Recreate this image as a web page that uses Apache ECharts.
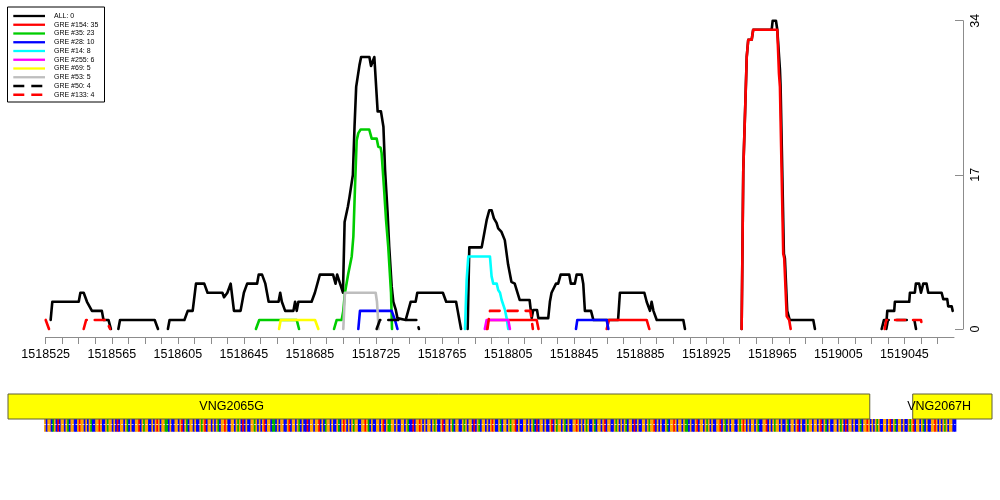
<!DOCTYPE html>
<html><head><meta charset="utf-8">
<script src="https://cdn.jsdelivr.net/npm/echarts@6/dist/echarts.min.js"></script>
<style>html,body{margin:0;padding:0;background:#fff}#c{width:1000px;height:500px}</style>
</head><body><div id="c"></div>
<script>
// ---- axis ----
const BASE = 1518525;      // first x tick
const AXIS_END = 1519075;  // end of x axis
const X_LABEL_STEP = 40;
const X_TICK_STEP = 10;
const Y_MAX = 34;
const Y_STEP = 17;

// ---- series (segments of [position, value]) ----
const legendNames = ['ALL: 0','GRE #154: 35','GRE #35: 23','GRE #28: 10','GRE #14: 8','GRE #255: 6','GRE #69: 5','GRE #53: 5','GRE #50: 4','GRE #133: 4'];

const ALL = [
 [[1518528,1],[1518529,3],[1518545,3],[1518546,4],[1518548,4],[1518550,3],[1518553,2],[1518559,2],[1518560,1],[1518563,1],[1518564.5,0]],
 [[1518569,0],[1518570,1],[1518591,1],[1518593,0]],
 [[1518599,0],[1518600,1],[1518609,1],[1518611,2],[1518614,2],[1518616,5],[1518621,5],[1518623,4],[1518632,4],[1518633,3.5],[1518635,4],[1518637,5],[1518638,5],[1518639,2],[1518643,2],[1518645,4],[1518647,5],[1518653,5],[1518654,6],[1518656,6],[1518658,5],[1518659,4],[1518660,3],[1518666,3],[1518667,4],[1518668,3],[1518670,2],[1518675,2],[1518676,3],[1518677,2],[1518678,3],[1518686,3],[1518688,4],[1518691,6],[1518699,6],[1518700.5,5],[1518701.5,6],[1518705,4],[1518706,11.8],[1518707,12],[1518708,13.5],[1518709,14.6],[1518711,17],[1518712,22.3],[1518713,26.7],[1518715,29.1],[1518716,30],[1518721,30],[1518722,29],[1518723,29],[1518724,30],[1518725,30],[1518726,24],[1518728,24],[1518729.5,22.3],[1518730.5,17.5],[1518732,12.9],[1518733,9.1],[1518734.5,4.7],[1518735.5,3],[1518737,2.1],[1518738,1.2],[1518743,1],[1518744.5,2],[1518746,3],[1518749,3],[1518750,4],[1518765.5,4],[1518767.5,3],[1518773.5,3],[1518774.5,2],[1518775.5,1],[1518776.5,0]],
 [[1518780.5,0],[1518781.5,9],[1518789,9],[1518792,12],[1518793.6,13.1],[1518795,13.1],[1518796.4,12.2],[1518798,11.7],[1518799,11.1],[1518801,10.7],[1518802,10.8],[1518803,9.8],[1518805,7.1],[1518806,6.9],[1518807,5.2],[1518809,5],[1518812,3.2],[1518818,3.2],[1518819.3,1.2],[1518820.2,2.1],[1518822.5,2.1],[1518823.3,1.2],[1518829.3,1.2],[1518830.3,3],[1518831.3,4],[1518832.5,4],[1518834,5],[1518835.3,5],[1518836.8,6],[1518842,6],[1518843,5],[1518845.4,5],[1518846.5,6],[1518849.5,6],[1518850.5,5],[1518851.5,2],[1518855.2,2],[1518856.6,1],[1518871.6,1],[1518872.7,4],[1518887.5,4],[1518888.9,3],[1518890.9,2],[1518891.9,3],[1518893,2],[1518895,1],[1518911.1,1],[1518912.1,0]],
 [[1518946.4,0],[1518947.4,17.5],[1518948.5,24],[1518949.5,30],[1518950.4,31.9],[1518952.5,31.9],[1518953.4,33],[1518964.6,33],[1518965.2,34],[1518967.2,34],[1518968,33],[1518969.6,28.6],[1518970,26.7],[1518972,8.3],[1518972.6,7.8],[1518974,2],[1518975.5,1],[1518989.8,1],[1518990.8,0]],
 [[1519031.2,0],[1519032.6,1],[1519034.2,1],[1519034.6,2],[1519038.8,2],[1519039.2,3],[1519047.9,3],[1519048.3,4],[1519051.3,4],[1519051.9,5],[1519053.9,5],[1519055,4],[1519056.4,5],[1519058.4,5],[1519059.4,4],[1519067.5,4],[1519068.5,3.3],[1519070.9,3.3],[1519071.5,2.5],[1519073.6,2.5],[1519074.2,2]]
];
const GRE154 = [
 [[1518791.9,0],[1518793,1],[1518822.3,1],[1518823.4,0]],
 [[1518864.7,0],[1518866.1,1],[1518888.9,1],[1518890.5,0]],
 [[1518946.4,0],[1518947.4,17.5],[1518948.5,24],[1518949.5,30],[1518950.4,31.9],[1518952.5,31.9],[1518953.4,33],[1518968,33],[1518969,28.2],[1518969.6,26.7],[1518971.6,8.3],[1518972.2,7.8],[1518973.7,1.4],[1518975.2,1],[1518976.1,0]]
];
const GRE35 = [
 [[1518652.3,0],[1518654.3,1],[1518677,1],[1518678.4,0]],
 [[1518699.6,0],[1518701.2,1],[1518704.2,1],[1518705.2,2],[1518706.2,4],[1518708.2,6.1],[1518710.3,8],[1518711.3,10.2],[1518712.3,15.7],[1518713.3,20.8],[1518714.3,21.6],[1518715.7,22],[1518720.9,22],[1518722.4,21],[1518725.4,21],[1518726.4,20.1],[1518727.8,20],[1518728.4,19.4],[1518729.8,15.7],[1518731.1,12],[1518732.4,9.1],[1518733.5,9],[1518734.1,4],[1518734.7,0]]
];
const GRE28 = [
 [[1518714.3,0],[1518715.3,2],[1518734.5,2],[1518736.5,1],[1518738,0]],
 [[1518846.1,0],[1518846.9,1],[1518864.7,1],[1518865.7,0]]
];
const GRE14 = [
 [[1518778.9,0],[1518779.9,5.4],[1518780.9,8],[1518794,8],[1518795,5.8],[1518796,5],[1518798.1,5],[1518799,4.3],[1518800.1,4],[1518801.1,3.2],[1518802.1,3],[1518803.1,2.1],[1518804.1,1.2],[1518805.1,0]]
];
const GRE255 = [
 [[1518790.9,0],[1518792,1],[1518805.1,1],[1518806.1,0]]
];
const GRE69 = [
 [[1518666.3,0],[1518667.3,1],[1518688.1,1],[1518690.1,0]]
];
const GRE53 = [
 [[1518705.2,0],[1518706.2,4],[1518724.8,4],[1518725.6,3],[1518726.6,0]]
];
const GRE50 = [
 [[1518725.4,0],[1518727.4,1],[1518749.6,1],[1518751,0]],
 [[1519034,0],[1519035,1],[1519051,1],[1519052,0]]
];
const GRE133 = [
 [[1518525,1],[1518527,0]],
 [[1518548,0],[1518549.5,1],[1518561.5,1],[1518564,0]],
 [[1518792.5,0],[1518794,2],[1518818.5,2],[1518820,0]],
 [[1519033,0],[1519034,1],[1519055,1],[1519056,0]]
];

// ---- genes ----
const geneNames = ['VNG2065G','VNG2067H'];
const geneStart = [1518251, 1519050];
const geneEnd = [1519024, 1519200];
const geneLabelPos = [1518637.6, 1519066];

// ---- sequence strip ----
const SEQ_START = 1518524;
const sequence = [
 'GCGGCAGCTCGGCGACGGCCGTGGCGCGACCGGTGCCGAGGCGCTCGGCG',
 'ACGCCGGTCGAGGCCGCGTGCGGAACGCCGGCGTCGACGGCGCCGAGTCG',
 'GCGCGACGGTGCCGGCGAGCTCGCCGGAGCGCGTCGGCAACGCGGCCGTC',
 'GGCGACGCCTCGGCGGTCGCAGGCGCCGACGTGCGCGAGGCCGGTGACGC',
 'CGGCGTCGAAGGCGCCGGCGACCTCGGTGCGCGGCGAGCCGTCGGCGACG',
 'GCCGAGCGGCTCGACGGCGCGTGCCGACGGCGAGGTCGCCGGCGCGACTC',
 'GGCGCCGTCGAGGCGACGCCGGTGCGCGAGCCGACGGCGTCGGCCGAGCG',
 'CGACGGCTCGCCGGCGAGGTCGCGCCGACGGTGCGGCGAACGCCGTCGGC',
 'GAGCGCCGGTCGACGCGGCCGAGTGCGCGGCGACCGGTCGCGAGGCGCCG',
 'ACGGCGTCGCCGAGGCGGCGTCGACGCCGGCGAGCTCGGCGCCGACGGTG',
 'CGCGAGCCGGCGTCGACGGCGCCGAGTCGGCGACGCCGGTGCGCGAGCGG',
 'CC'
].join('');
const baseColors = {A: '#00b000', C: '#0000ff', G: '#ffa500', T: '#ff0000'};

// ---- styles ----
const allSeriesData = [ALL, GRE154, GRE35, GRE28, GRE14, GRE255, GRE69, GRE53, GRE50, GRE133];
const colors = ['#000000','#ff0000','#00cd00','#0000ff','#00ffff','#ff00ff','#ffff00','#bebebe','#000000','#ff0000'];
const dashed = [false,false,false,false,false,false,false,false,true,true];

function toData(segs){
  const out = [];
  segs.forEach((s, i) => {
    if (i) out.push([s[0][0] - BASE, null]);
    s.forEach(p => out.push([p[0] - BASE, p[1]]));
  });
  return out;
}

const FONT = 'Liberation Sans, Arial, Helvetica, sans-serif';
const GL = 45.7, GR = 46;
const PANEL_L = 8, PANEL_R = 992;
const scale = (1000 - GL - GR) / (AXIS_END - BASE);
const LW = 2.6;
const DASH = [10, 8];

const lineSeries = allSeriesData.map((segs, i) => ({
  name: legendNames[i], type: 'line', data: toData(segs),
  xAxisIndex: 0, yAxisIndex: 0,
  showSymbol: false, symbol: 'none', connectNulls: false, clip: false,
  lineStyle: { color: colors[i], width: LW, type: dashed[i] ? DASH : 'solid', cap: 'round', join: 'round' },
  itemStyle: { color: colors[i] },
  silent: true
}));

const geneSeries = {
  type: 'custom', xAxisIndex: 1, yAxisIndex: 1, silent: true, z: 3,
  renderItem(params, api){
    const i = params.dataIndex;
    const s = api.coord([api.value(0), 0]);
    const e = api.coord([api.value(1), 0]);
    const cs = params.coordSys;
    const r = echarts.graphic.clipRectByRect(
      {x: s[0], y: cs.y, width: e[0] - s[0], height: 25},
      {x: cs.x, y: cs.y, width: cs.width, height: cs.height});
    const lx = api.coord([api.value(2), 0])[0];
    return {type: 'group', children: [
      {type: 'rect', shape: r, style: {fill: '#ffff00', stroke: '#5f5f3a', lineWidth: 1}},
      {type: 'text', x: lx, y: cs.y + 13, style: {text: geneNames[i], fill: '#000', font: '12.5px ' + FONT, align: 'center', verticalAlign: 'middle'}}
    ]};
  },
  data: geneStart.map((s, i) => [s - BASE, geneEnd[i] - BASE, geneLabelPos[i] - BASE])
};

const seqSeries = {
  type: 'custom', xAxisIndex: 1, yAxisIndex: 1, silent: true, z: 2,
  renderItem(params, api){
    const p = api.value(0);
    const a = api.coord([p, 0]);
    const b = api.coord([p + 1, 0]);
    const cs = params.coordSys;
    return {type: 'rect', shape: {x: a[0], y: cs.y + 25, width: b[0] - a[0] + 0.7, height: 12.7},
            style: {fill: baseColors[sequence[params.dataIndex]]}};
  },
  data: sequence.split('').map((c, i) => [SEQ_START + i - BASE])
};

const seqDots = {
  type: 'custom', xAxisIndex: 1, yAxisIndex: 1, silent: true, z: 4,
  renderItem(params, api){
    const a = api.coord([api.value(0), 0]);
    const b = api.coord([api.value(1), 0]);
    const cs = params.coordSys;
    return {type: 'line', shape: {x1: a[0], y1: cs.y + 30.5, x2: b[0], y2: cs.y + 30.5},
            style: {stroke: '#ffffff', lineWidth: 1, lineDash: [2, 1.5], opacity: 0.7}};
  },
  data: [[SEQ_START - BASE, SEQ_START + sequence.length - BASE]]
};

// legend drawn as graphic (line samples + labels)
const legendGraphic = [{type: 'rect', shape: {x: 7.5, y: 7, width: 97, height: 95}, style: {fill: '#fff', stroke: '#000', lineWidth: 1}, z: 100}];
legendNames.forEach((n, i) => {
  const y = 16 + i * 8.75;
  legendGraphic.push({type: 'line', shape: {x1: 13.3, y1: y, x2: 45, y2: y}, z: 101,
    style: {stroke: colors[i], lineWidth: 2.3, lineDash: dashed[i] ? [11, 7] : null}});
  legendGraphic.push({type: 'text', x: 54, y: y, z: 101,
    style: {text: n, fill: '#000', font: '7px ' + FONT, verticalAlign: 'middle', align: 'left'}});
});

const chart = echarts.init(document.getElementById('c'), null, {renderer: 'canvas'});
chart.setOption({
  animation: false,
  backgroundColor: '#fff',
  graphic: legendGraphic,
  grid: [
    {left: GL, right: GR, top: 20.7, bottom: 171},
    {left: PANEL_L, right: 1000 - PANEL_R, top: 394, height: 38}
  ],
  xAxis: [
    {type: 'value', gridIndex: 0, min: 0, max: AXIS_END - BASE, interval: X_TICK_STEP, offset: 8,
     axisLine: {show: true, onZero: false, lineStyle: {color: '#8c8c8c', width: 1}},
     axisTick: {show: true, length: 7, lineStyle: {color: '#8c8c8c'}},
     splitLine: {show: false},
     axisLabel: {margin: 11, fontSize: 12.5, fontFamily: FONT, color: '#000',
       showMaxLabel: false,
       formatter: v => (Math.round(v) % X_LABEL_STEP === 0 ? String(BASE + Math.round(v)) : '')}},
    {type: 'value', gridIndex: 1, show: false,
     min: -(GL - PANEL_L) / scale, max: (AXIS_END - BASE) + (PANEL_R - (1000 - GR)) / scale}
  ],
  yAxis: [
    {type: 'value', gridIndex: 0, position: 'right', offset: 9, min: 0, max: Y_MAX, interval: Y_STEP,
     axisLine: {show: true, onZero: false, lineStyle: {color: '#8c8c8c', width: 1}},
     axisTick: {show: true, inside: true, length: 8, lineStyle: {color: '#8c8c8c'}},
     splitLine: {show: false},
     axisLabel: {rotate: 90, margin: 6, fontSize: 12.5, fontFamily: FONT, color: '#000'}},
    {type: 'value', gridIndex: 1, show: false, min: 0, max: 1}
  ],
  series: lineSeries.concat([seqSeries, seqDots, geneSeries])
});
</script></body></html>
